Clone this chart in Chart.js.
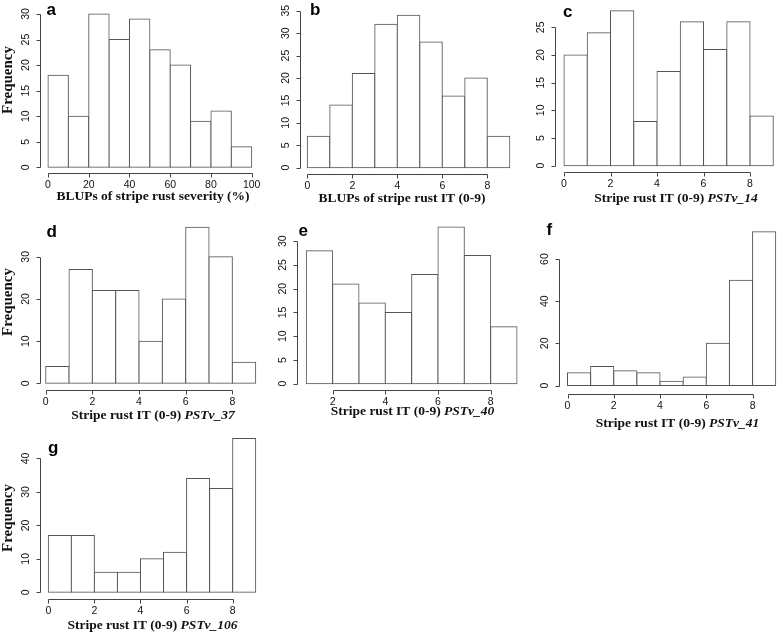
<!DOCTYPE html>
<html>
<head>
<meta charset="utf-8">
<script src="https://cdn.jsdelivr.net/npm/chart.js@4.4.1/dist/chart.umd.min.js"></script>
<style>
  body { margin: 0; background: #fff; }
  #fig { position: relative; width: 778px; height: 635px; }
  #fig canvas { position: absolute; }
</style>
</head>
<body>
<div id="fig"></div>
<script>
// histogram data (bin lower edges + counts)
const sevBins = [0, 10, 20, 30, 40, 50, 60, 70, 80, 90];
const sevCounts = [18, 10, 30, 25, 29, 23, 20, 9, 11, 4];
const itBins = [0, 1, 2, 3, 4, 5, 6, 7, 8];
const itCounts = [7, 14, 21, 32, 34, 28, 16, 20, 7];
const pstv14Counts = [20, 24, 28, 8, 17, 26, 21, 26, 9];
const pstv37Counts = [4, 27, 22, 22, 10, 20, 37, 30, 5];
const pstv40Bins = [1, 2, 3, 4, 5, 6, 7, 8];
const pstv40Counts = [28, 21, 17, 15, 23, 33, 27, 12];
const pstv41Counts = [6, 9, 7, 6, 2, 4, 20, 50, 73];
const pstv106Counts = [17, 17, 6, 6, 10, 12, 34, 31, 46];

// axis tick labels
const sevTicks = [0, 20, 40, 60, 80, 100];
const itTicks = [0, 2, 4, 6, 8];
const pstv40Ticks = [2, 4, 6, 8];
const yTicksA = [0, 5, 10, 15, 20, 25, 30];
const yTicksB = [0, 5, 10, 15, 20, 25, 30, 35];
const yTicksC = [0, 5, 10, 15, 20, 25];
const yTicksD = [0, 10, 20, 30];
const yTicksE = [0, 5, 10, 15, 20, 25, 30];
const yTicksF = [0, 20, 40, 60];
const yTicksG = [0, 10, 20, 30, 40];

const IT = 'Stripe rust IT (0-9) ';

// layout: area = [left, right, top, bottom] in page px
const panels = [
  { letter: 'a', bins: sevBins, counts: sevCounts, w: 10, xMin: 0, xMax: 100, yMax: 30,
    xTicks: sevTicks, yTicks: yTicksA, title: [['BLUPs of stripe rust severity (%)', false]], freq: 80,
    box: [0, 0], area: [48, 251.7, 14, 167.3], yAxisX: 40, xAxisY: 172.7, titleX: 153, titleY: 200, letterAt: [46.5, 15] },
  { letter: 'b', bins: itBins, counts: itCounts, w: 1, xMin: 0, xMax: 9, yMax: 35,
    xTicks: itTicks, yTicks: yTicksB, title: [['BLUPs of stripe rust IT (0-9)', false]],
    box: [255, 0], area: [307.3, 509.8, 10.7, 167.7], yAxisX: 300, xAxisY: 174, titleX: 402, titleY: 201.5, letterAt: [310, 15] },
  { letter: 'c', bins: itBins, counts: pstv14Counts, w: 1, xMin: 0, xMax: 9, yMax: 28,
    xTicks: itTicks, yTicks: yTicksC, title: [[IT, false], ['PSTv_14', true]],
    box: [510, 0], area: [564, 773.3, 10.7, 165.7], yAxisX: 555, xAxisY: 172.3, titleX: 676, titleY: 202, letterAt: [563, 16.5] },
  { letter: 'd', bins: itBins, counts: pstv37Counts, w: 1, xMin: 0, xMax: 9, yMax: 37,
    xTicks: itTicks, yTicks: yTicksD, title: [[IT, false], ['PSTv_37', true]], freq: 302,
    box: [0, 210], area: [45.7, 255.7, 227.3, 383.3], yAxisX: 40, xAxisY: 390, titleX: 153, titleY: 419, letterAt: [46.5, 236.5] },
  { letter: 'e', bins: pstv40Bins, counts: pstv40Counts, w: 1, xMin: 1, xMax: 9, yMax: 33,
    xTicks: pstv40Ticks, yTicks: yTicksE, title: [[IT, false], ['PSTv_40', true]],
    box: [255, 210], area: [306.3, 517, 227, 383.7], yAxisX: 297, xAxisY: 390, titleX: 412.5, titleY: 415, letterAt: [298.5, 236] },
  { letter: 'f', bins: itBins, counts: pstv41Counts, w: 1, xMin: 0, xMax: 9, yMax: 73,
    xTicks: itTicks, yTicks: yTicksF, title: [[IT, false], ['PSTv_41', true]],
    box: [510, 210], area: [567.5, 775.7, 231.7, 385.5], yAxisX: 559.3, xAxisY: 393.5, titleX: 677.5, titleY: 426.5, letterAt: [546.5, 235] },
  { letter: 'g', bins: itBins, counts: pstv106Counts, w: 1, xMin: 0, xMax: 9, yMax: 46,
    xTicks: itTicks, yTicks: yTicksG, title: [[IT, false], ['PSTv_106', true]], freq: 518,
    box: [0, 420], area: [48.3, 255.7, 438.4, 592.3], yAxisX: 40, xAxisY: 599.3, titleX: 152.5, titleY: 628.5, letterAt: [48, 453] }
];

const SANS = '"Liberation Sans", Arial, sans-serif';
const SERIF = '"Liberation Serif", "Times New Roman", serif';

// R-style detached axes, drawn from the chart scales
const rAxes = {
  id: 'rAxes',
  afterDraw(chart, args, o) {
    const { ctx, scales: { x, y } } = chart;
    const p = o.p, ox = p.box[0], oy = p.box[1];
    const ax = Math.round(p.yAxisX - ox) + 0.5;
    const ay = Math.round(p.xAxisY - oy) + 0.5;
    ctx.save();
    ctx.strokeStyle = '#444';
    ctx.lineWidth = 1;
    ctx.beginPath();
    const yt = p.yTicks, xt = p.xTicks;
    ctx.moveTo(ax, Math.round(y.getPixelForValue(yt[0])) + 0.5);
    ctx.lineTo(ax, Math.round(y.getPixelForValue(yt[yt.length - 1])) + 0.5);
    yt.forEach(v => {
      const py = Math.round(y.getPixelForValue(v)) + 0.5;
      ctx.moveTo(ax, py); ctx.lineTo(ax - 4, py);
    });
    ctx.moveTo(Math.round(x.getPixelForValue(xt[0])) + 0.5, ay);
    ctx.lineTo(Math.round(x.getPixelForValue(xt[xt.length - 1])) + 0.5, ay);
    xt.forEach(v => {
      const px = Math.round(x.getPixelForValue(v)) + 0.5;
      ctx.moveTo(px, ay); ctx.lineTo(px, ay + 4);
    });
    ctx.stroke();

    ctx.fillStyle = '#111';
    ctx.font = '10.5px ' + SANS;
    ctx.textAlign = 'center';
    ctx.textBaseline = 'middle';
    yt.forEach(v => {
      ctx.save();
      ctx.translate(ax - 14.5, y.getPixelForValue(v));
      ctx.rotate(-Math.PI / 2);
      ctx.fillText(String(v), 0, 0);
      ctx.restore();
    });
    xt.forEach(v => ctx.fillText(String(v), x.getPixelForValue(v), ay + 12));

    // x title (bold, with italic marker name)
    ctx.textBaseline = 'alphabetic';
    ctx.textAlign = 'left';
    const fonts = p.title.map(t => (t[1] ? 'italic bold 13.5px ' : 'bold 13.5px ') + SERIF);
    let total = 0;
    const widths = p.title.map((t, i) => { ctx.font = fonts[i]; const m = ctx.measureText(t[0]).width; total += m; return m; });
    let tx = p.titleX - ox - total / 2;
    p.title.forEach((t, i) => { ctx.font = fonts[i]; ctx.fillText(t[0], tx, p.titleY - oy); tx += widths[i]; });

    if (p.freq) {
      ctx.save();
      ctx.font = 'bold 15px ' + SERIF;
      ctx.textAlign = 'center';
      ctx.textBaseline = 'middle';
      ctx.translate(8 - ox, p.freq - oy);
      ctx.rotate(-Math.PI / 2);
      ctx.fillText('Frequency', 0, 0);
      ctx.restore();
    }

    ctx.font = 'bold 17px ' + SANS;
    ctx.fillStyle = '#000';
    ctx.textAlign = 'left';
    ctx.fillText(p.letter, p.letterAt[0] - ox, p.letterAt[1] - oy);
    ctx.restore();
  }
};

const fig = document.getElementById('fig');
panels.forEach(p => {
  const [l, r, t, b] = p.area;
  const cw = Math.min(778, Math.ceil(r) + 12) - p.box[0];
  const ch = 635 - p.box[1];
  const cv = document.createElement('canvas');
  cv.width = cw; cv.height = ch;
  cv.style.left = p.box[0] + 'px';
  cv.style.top = p.box[1] + 'px';
  fig.appendChild(cv);
  new Chart(cv, {
    type: 'bar',
    data: {
      datasets: [{
        data: p.bins.map((s, i) => ({ x: s + p.w / 2, y: p.counts[i] })),
        backgroundColor: '#fff',
        borderColor: '#555',
        borderWidth: 1,
        borderSkipped: false,
        inflateAmount: 0.5,
        barPercentage: 1,
        categoryPercentage: 1,
        clip: false
      }]
    },
    options: {
      responsive: false,
      animation: false,
      events: [],
      layout: { padding: { left: l - p.box[0], right: cw - (r - p.box[0]), top: t - p.box[1], bottom: ch - (b - p.box[1]) } },
      plugins: { legend: { display: false }, tooltip: { enabled: false }, rAxes: { p } },
      scales: {
        x: { type: 'linear', display: false, offset: false, min: p.xMin, max: p.xMax, ticks: { stepSize: p.w } },
        y: { display: false, min: 0, max: p.yMax }
      }
    },
    plugins: [rAxes]
  });
});
</script>
</body>
</html>
